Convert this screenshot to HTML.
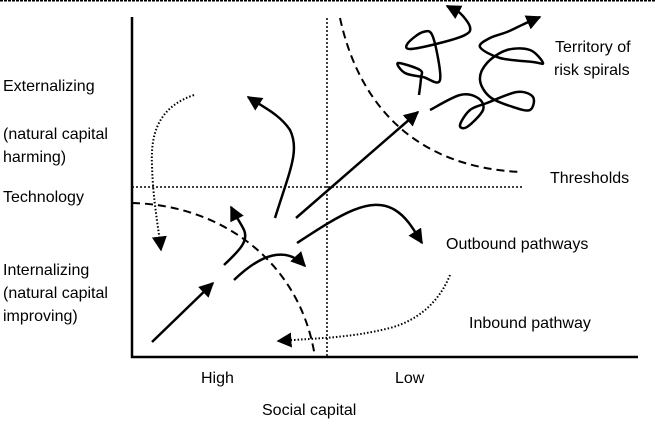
<!DOCTYPE html>
<html><head><style>
html,body{margin:0;padding:0;background:#fff;}
svg{display:block;}
text{font-family:"Liberation Sans",sans-serif;font-size:16px;fill:#000;}
</style></head><body>
<svg id="s" width="655" height="440" viewBox="0 0 655 440" xmlns="http://www.w3.org/2000/svg">
<defs>
<marker id="a" viewBox="0 0 10 10" refX="9" refY="5" markerWidth="6" markerHeight="6" orient="auto" markerUnits="strokeWidth">
<path d="M0,0 L10,5 L0,10 z" fill="#000"/></marker>
<marker id="b" viewBox="0 0 10 10" refX="9" refY="5" markerWidth="15" markerHeight="15" orient="auto" markerUnits="userSpaceOnUse">
<path d="M0,0 L10,5 L0,10 z" fill="#000"/></marker>
</defs>
<line x1="0" y1="0.8" x2="655" y2="0.8" stroke="#000" stroke-width="1.5" stroke-dasharray="3,1"/>
<polyline points="132,17 132,357 638,357" fill="none" stroke="#000" stroke-width="2.5"/>
<line x1="327" y1="18" x2="327" y2="357" stroke="#000" stroke-width="1.5" stroke-dasharray="2,2"/>
<line x1="132" y1="187" x2="522" y2="187" stroke="#000" stroke-width="1.5" stroke-dasharray="2,2"/>
<path d="M132,203 C220,205 300,260 315,357" fill="none" stroke="#000" stroke-width="2" stroke-dasharray="8,5"/>
<path d="M340,18 C360,110 420,168 522,172" fill="none" stroke="#000" stroke-width="2" stroke-dasharray="8,5"/>
<g fill="none" stroke="#000" stroke-width="2.5">
<path d="M152,342 L213,283" marker-end="url(#a)"/>
<path d="M296,218 L418,112" marker-end="url(#a)"/>
<path d="M275,218 C290,170 300,150 290,130 C280,115 265,108 248,97" marker-end="url(#a)"/>
<path d="M224,265 C240,250 250,240 243,228 C240,222 235,215 231,207" marker-end="url(#a)"/>
<path d="M234,280 C260,255 285,245 305,266" marker-end="url(#a)"/>
<path d="M297,243 C340,215 370,195 395,210 C408,218 415,232 422,243" marker-end="url(#a)"/>
<path id="sp1" d="" marker-end="url(#b)"/>
<path id="sp2" d="" marker-end="url(#b)"/>
</g>
<path d="M194,95 C165,105 150,125 152,165 C153,200 158,225 161,250" fill="none" stroke="#000" stroke-width="2" stroke-dasharray="1.5,2" marker-end="url(#b)"/>
<path d="M450,275 C440,300 420,320 390,328 C350,338 320,338 278,341" fill="none" stroke="#000" stroke-width="2" stroke-dasharray="1.5,2" marker-end="url(#b)"/>
<text x="3" y="91">Externalizing</text>
<text x="3" y="139">(natural capital</text>
<text x="3" y="162">harming)</text>
<text x="3" y="202">Technology</text>
<text x="3" y="275">Internalizing</text>
<text x="3" y="298">(natural capital</text>
<text x="3" y="321">improving)</text>
<text x="555" y="52">Territory of</text>
<text x="554" y="75">risk spirals</text>
<text x="550" y="183">Thresholds</text>
<text x="446" y="249">Outbound pathways</text>
<text x="469" y="328">Inbound pathway</text>
<text x="201" y="383">High</text>
<text x="395" y="383">Low</text>
<text x="262" y="415">Social capital</text>
</svg>
<script>
function cr(p){var d="M"+p[0]+","+p[1];var n=p.length/2;
for(var i=0;i<n-1;i++){var x0=p[2*Math.max(i-1,0)],y0=p[2*Math.max(i-1,0)+1],x1=p[2*i],y1=p[2*i+1],x2=p[2*i+2],y2=p[2*i+3],j=Math.min(i+2,n-1),x3=p[2*j],y3=p[2*j+1];
d+=" C"+(x1+(x2-x0)/6)+","+(y1+(y2-y0)/6)+" "+(x2-(x3-x1)/6)+","+(y2-(y3-y1)/6)+" "+x2+","+y2;}return d;}
document.getElementById("sp1").setAttribute("d",cr([419,95,421,78,420,70,398,63,405,73,423,77,440,80,433,37,423,32,408,43,410,49,440,43,465,35,470,27,460,13,447,6]));
document.getElementById("sp2").setAttribute("d",cr([430,110,460,95,478,98,483,110,467,127,460,125,470,110,487,103,517,92,533,97,530,110,513,107,490,97,480,80,487,63,507,50,530,50,543,63,533,62,500,58,480,47,490,38,507,32,524,24,540,17]));
</script>
</body></html>
